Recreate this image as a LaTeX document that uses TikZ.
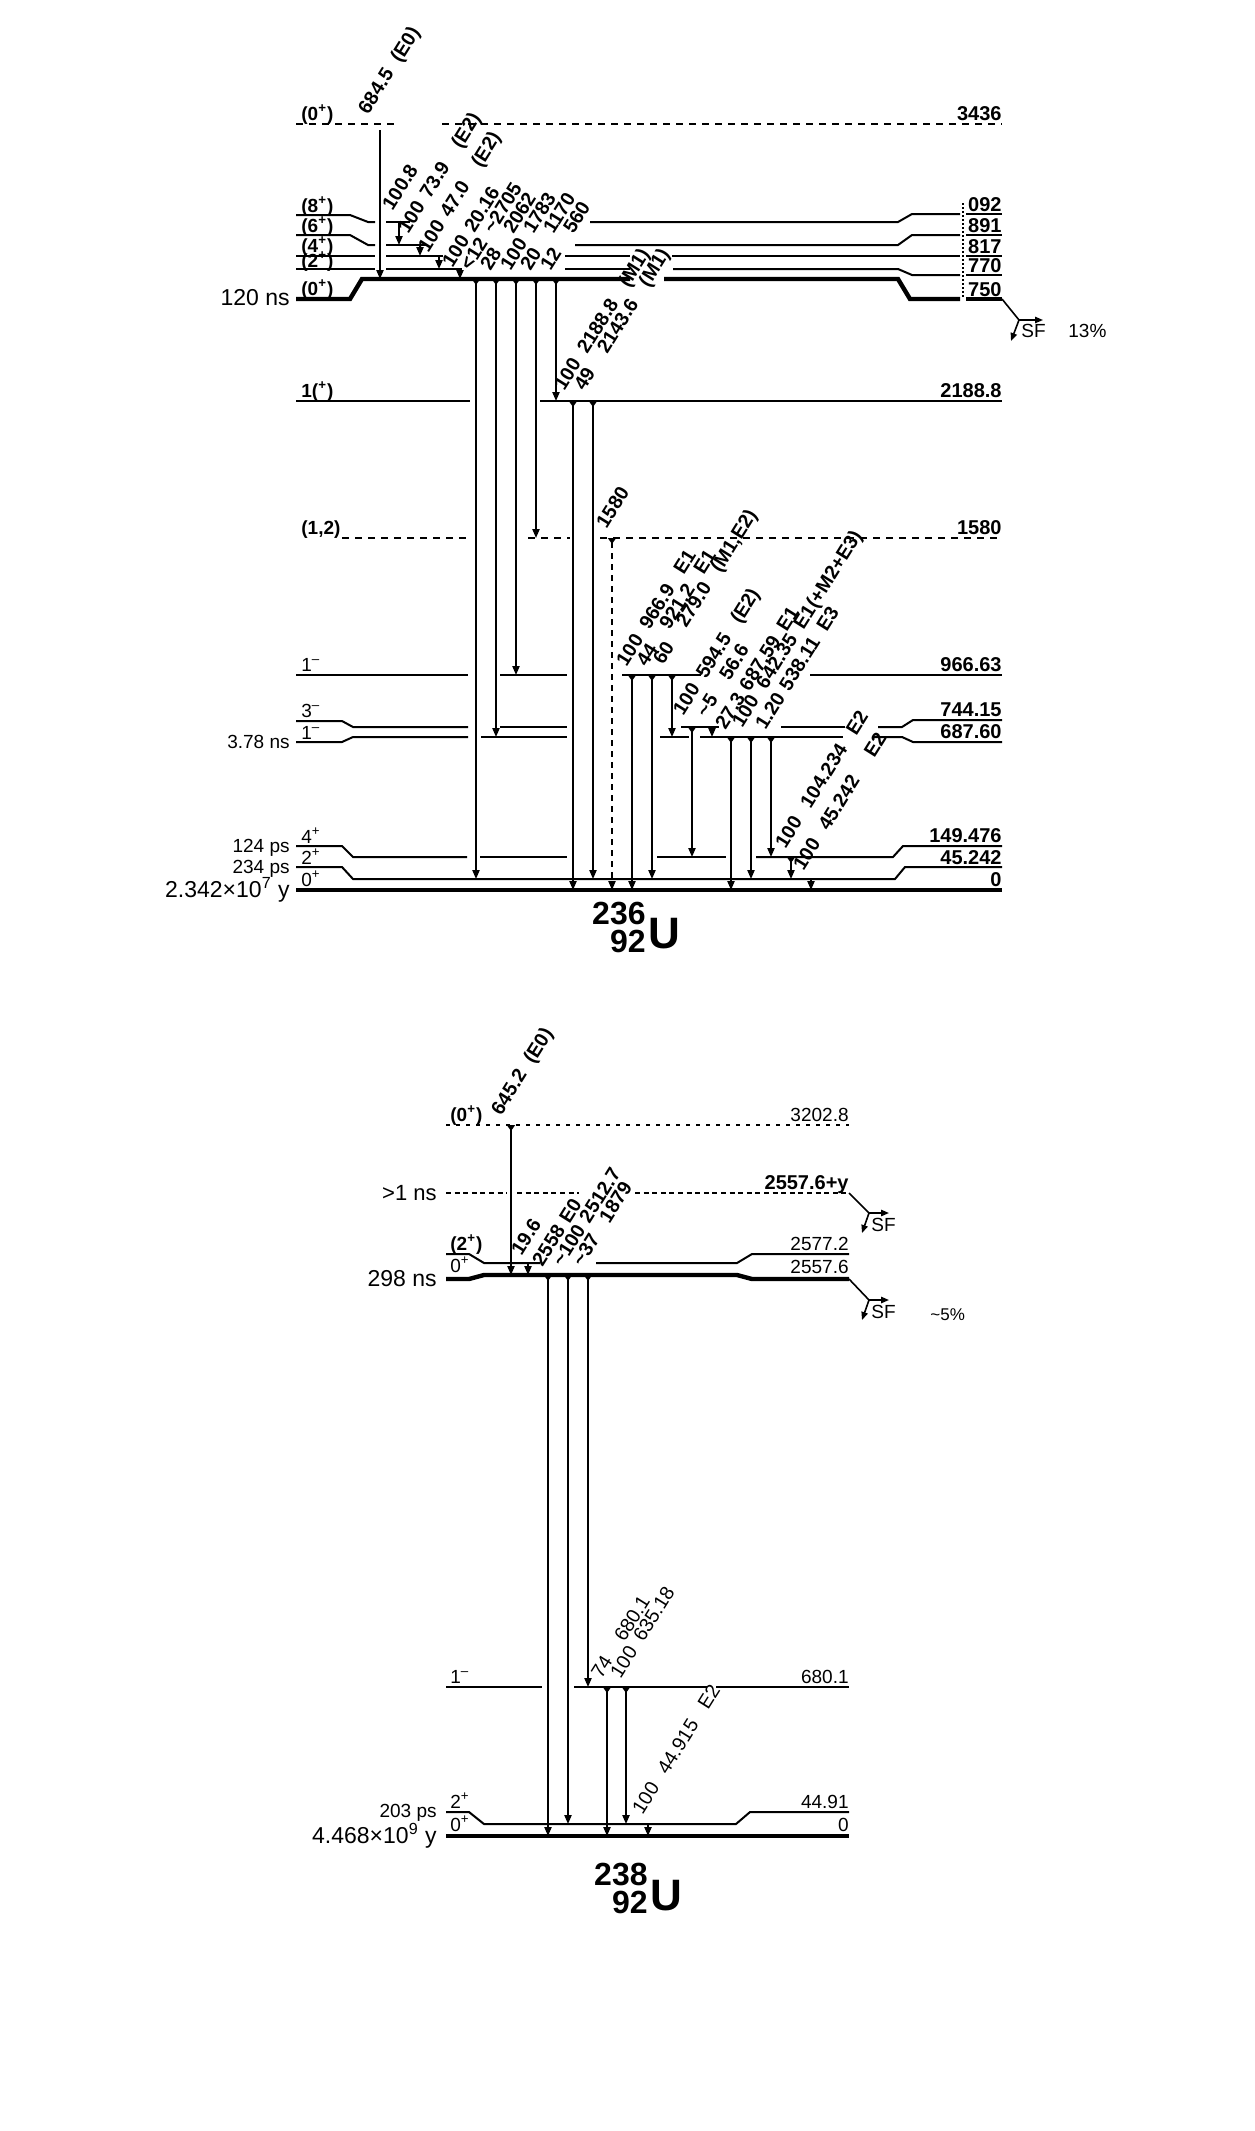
\documentclass[tikz,border=0pt]{standalone}
\usepackage{fontspec}
\setmainfont{Liberation Sans}
\usetikzlibrary{arrows.meta}
\newcommand{\trl}[5]{\makebox[#1][l]{#2}\makebox[#3][l]{#4}#5}
\newcommand{\tld}{\textasciitilde}
\newcommand{\smin}{\textsuperscript{–}}
\begin{document}
\begin{tikzpicture}[x=0.5pt,y=-0.5pt,
  lev/.style={line width=1pt},
  thk/.style={line width=2.2pt},
  dsh/.style={line width=1pt,dash pattern=on 3.5pt off 3pt},
  dsb/.style={line width=1pt,dash pattern=on 2pt off 3pt},
  dsc/.style={line width=1.2pt,dash pattern=on 2.5pt off 1.8pt},
  tr/.style={line width=0.8pt,{Triangle[reversed,width=4pt,length=3pt]}-{Triangle[width=3.6pt,length=4.5pt]}},
  trn/.style={line width=0.8pt,-{Triangle[width=3.6pt,length=4.5pt]}},
  trd/.style={tr,dash pattern=on 3pt off 2.5pt},
  sfa/.style={line width=0.8pt,-{Triangle[width=3.2pt,length=4pt]}},
  lbl/.style={rotate=58,anchor=south west,inner sep=0pt,font=\bfseries\fontsize{9.8}{10}\selectfont},
  lbr/.style={lbl,font=\fontsize{9.8}{10}\selectfont},
  enb/.style={anchor=base east,inner sep=0pt,font=\bfseries\fontsize{10}{10}\selectfont},
  enr/.style={anchor=base east,inner sep=0pt,font=\fontsize{9.5}{10}\selectfont},
  spn/.style={anchor=base west,inner sep=0pt,font=\bfseries\fontsize{9.5}{10}\selectfont},
  spr/.style={anchor=base west,inner sep=0pt,font=\fontsize{9.5}{10}\selectfont},
  ltm/.style={anchor=base east,inner sep=0pt,font=\fontsize{9.5}{11}\selectfont},
  ltb/.style={anchor=base east,inner sep=0pt,font=\fontsize{11.5}{12}\selectfont},
  iso/.style={inner sep=0pt,font=\bfseries\fontsize{16}{16}\selectfont},
  isu/.style={inner sep=0pt,anchor=base west,font=\bfseries\fontsize{22}{22}\selectfont},
  sft/.style={anchor=north west,inner sep=0pt,font=\fontsize{9.5}{10}\selectfont},
]
\fill[white] (0,0) rectangle (1254,2131);
\useasboundingbox (0,0) rectangle (1254,2131);

%%%%%%%%%%%%%%%% 236U %%%%%%%%%%%%%%%%
\draw[dsh] (296,124) -- (400,124);
\draw[dsh] (442,124) -- (1002,124);
% band 8+
\draw[lev] (296,215) -- (350,215) -- (368,222) -- (375,222);
\draw[lev] (386,222) -- (410,222);
\draw[lev] (590,222) -- (898,222) -- (912,214) -- (960,214);
\draw[lev] (966,214) -- (1002,214);
% 6+
\draw[lev] (296,235) -- (350,235) -- (368,245) -- (375,245);
\draw[lev] (386,245) -- (427,245);
\draw[lev] (575,245) -- (898,245) -- (912,235) -- (960,235);
\draw[lev] (966,235) -- (1002,235);
% 4+
\draw[lev] (296,256) -- (375,256);
\draw[lev] (386,256) -- (443,256);
\draw[lev] (565,256) -- (630,256);
\draw[lev] (672,256) -- (960,256);
\draw[lev] (966,256) -- (1002,256);
% 2+
\draw[lev] (296,269) -- (375,269);
\draw[lev] (386,269) -- (462,269);
\draw[lev] (565,269) -- (630,269);
\draw[lev] (673,269) -- (898,269) -- (912,275) -- (960,275);
\draw[lev] (966,275) -- (1002,275);
% 0+ isomer
\draw[thk] (296,299) -- (350,299) -- (362,279) -- (630,279);
\draw[thk] (664,279) -- (898,279) -- (910,299) -- (960,299);
\draw[thk] (966,299) -- (1002,299);
\draw[densely dotted,line width=1pt] (963,203) -- (963,299);
% 1(+)
\draw[lev] (296,401) -- (470,401);
\draw[lev] (540,401) -- (1002,401);
% (1,2)
\draw[dsh] (342,538) -- (470,538);
\draw[dsh] (528,538) -- (570,538);
\draw[dsh] (600,538) -- (1002,538);
% 966.63
\draw[lev] (296,675) -- (468,675);
\draw[lev] (500,675) -- (567,675);
\draw[lev] (622,675) -- (701,675);
\draw[lev] (810,675) -- (1002,675);
% 3-
\draw[lev] (296,721) -- (342,721) -- (353,727) -- (468,727);
\draw[lev] (500,727) -- (567,727);
\draw[lev] (681,727) -- (719,727);
\draw[lev] (781,727) -- (845,727);
\draw[lev] (878,727) -- (902,727) -- (913,720) -- (1002,720);
% 1-
\draw[lev] (296,742) -- (342,742) -- (353,737) -- (468,737);
\draw[lev] (481,737) -- (567,737);
\draw[lev] (660,737) -- (689,737);
\draw[lev] (700,737) -- (843,737);
\draw[lev] (874,737) -- (902,737) -- (913,742) -- (1002,742);
% 4+
\draw[lev] (296,846) -- (342,846) -- (353,857) -- (467,857);
\draw[lev] (480,857) -- (567,857);
\draw[lev] (657,857) -- (726,857);
\draw[lev] (756,857) -- (893,857) -- (903,846) -- (1002,846);
% 2+
\draw[lev] (296,867) -- (342,867) -- (353,879) -- (895,879) -- (905,867) -- (1002,867);
% ground
\draw[thk] (296,890) -- (1002,890);

% left labels
\node[spn] (a01) at (301,120) {(0\textsuperscript{+})};
\node[spn] (a02) at (301,212) {(8\textsuperscript{+})};
\node[spn] (a03) at (301,232) {(6\textsuperscript{+})};
\node[spn] (a04) at (301,252) {(4\textsuperscript{+})};
\node[spn] (a05) at (301,267) {(2\textsuperscript{+})};
\node[spn] (a06) at (301,295) {(0\textsuperscript{+})};
\node[spn] (a07) at (301,397) {1(\textsuperscript{+})};
\node[spn] (a08) at (301,534) {(1,2)};
\node[spr] (a09) at (301,671) {1\smin};
\node[spr] (a10) at (301,717) {3\smin};
\node[spr] (a11) at (301,739) {1\smin};
\node[spr] (a12) at (301,843) {4\textsuperscript{+}};
\node[spr] (a13) at (301,864) {2\textsuperscript{+}};
\node[spr] (a14) at (301,886) {0\textsuperscript{+}};
% lifetimes
\node[ltb] (b01) at (290,305) {120 ns};
\node[ltm] (b02) at (290,748) {3.78 ns};
\node[ltm] (b03) at (290,852) {124 ps};
\node[ltm] (b04) at (290,873) {234 ps};
\node[ltb] (b05) at (290,897) {2.342×10\textsuperscript{7} y};
% right energies
\node[enb] (c01) at (1002,120) {3436};
\node[enb] (c02) at (1002,211) {092};
\node[enb] (c03) at (1002,232) {891};
\node[enb] (c04) at (1002,253) {817};
\node[enb] (c05) at (1002,272) {770};
\node[enb] (c06) at (1002,296) {750};
\node[enb] (c07) at (1002,397) {2188.8};
\node[enb] (c08) at (1002,534) {1580};
\node[enb] (c09) at (1002,671) {966.63};
\node[enb] (c10) at (1002,716) {744.15};
\node[enb] (c11) at (1002,738) {687.60};
\node[enb] (c12) at (1002,842) {149.476};
\node[enb] (c13) at (1002,864) {45.242};
\node[enb] (c14) at (1002,886) {0};

% SF
\coordinate (sf0) at (1002,299);
\coordinate (sf1) at (1019,320);
\coordinate (sf1r) at (1043,320);
\coordinate (sf1d) at (1011,341);
\draw[line width=0.8pt] (sf0) -- (sf1);
\draw[sfa] (sf1) -- (sf1r);
\draw[sfa] (sf1) -- (sf1d);
\node[sft] (sfl1) at (1021,324) {SF};
\node[sft] (sfp1) at (1068,324) {13\%};

% transitions
\coordinate (p1s) at (380,130); \coordinate (p1e) at (380,279);
\draw[trn] (p1s) -- (p1e);
\node[lbl] (q1) at (372,118) {\makebox[3.1em][l]{684.5}(E0)};

\coordinate (p2s) at (399,222); \coordinate (p2e) at (399,245);
\draw[trn] (p2s) -- (p2e);
\node[lbl] (q2) at (393,212) {100.8};
\coordinate (p3s) at (420,245); \coordinate (p3e) at (420,256);
\draw[trn] (p3s) -- (p3e);
\node[lbl] (q3) at (412,237) {\trl{2.1em}{100}{3.0em}{73.9}{(E2)}};
\coordinate (p4s) at (439,256); \coordinate (p4e) at (439,269);
\draw[trn] (p4s) -- (p4e);
\node[lbl] (q4) at (432,256) {\trl{2.1em}{100}{3.0em}{47.0}{(E2)}};
\coordinate (p5s) at (460,269); \coordinate (p5e) at (460,279);
\draw[trn] (p5s) -- (p5e);
\node[lbl] (q5) at (453,269) {\trl{2.1em}{100}{3.0em}{20.16}{}};

\coordinate (p6s) at (476,279); \coordinate (p6e) at (476,879);
\draw[tr] (p6s) -- (p6e);
\node[lbl] (q6) at (471,272) {\makebox[2.2em][l]{<12}\tld2705};
\coordinate (p7s) at (496,279); \coordinate (p7e) at (496,737);
\draw[tr] (p7s) -- (p7e);
\node[lbl] (q7) at (491,272) {\makebox[2.2em][l]{28}2062};
\coordinate (p8s) at (516,279); \coordinate (p8e) at (516,675);
\draw[tr] (p8s) -- (p8e);
\node[lbl] (q8) at (511,272) {\makebox[2.2em][l]{100}1783};
\coordinate (p9s) at (536,279); \coordinate (p9e) at (536,538);
\draw[tr] (p9s) -- (p9e);
\node[lbl] (q9) at (531,272) {\makebox[2.2em][l]{20}1170};
\coordinate (p10s) at (556,279); \coordinate (p10e) at (556,401);
\draw[tr] (p10s) -- (p10e);
\node[lbl] (q10) at (551,272) {\makebox[2.2em][l]{12}560};

\coordinate (p11s) at (573,401); \coordinate (p11e) at (573,890);
\draw[tr] (p11s) -- (p11e);
\node[lbl] (q11) at (568,394) {\trl{2.2em}{100}{4.0em}{2188.8}{(M1)}};
\coordinate (p12s) at (593,401); \coordinate (p12e) at (593,879);
\draw[tr] (p12s) -- (p12e);
\node[lbl] (q12) at (588,394) {\trl{2.2em}{49}{4.0em}{2143.6}{(M1)}};

\coordinate (p13s) at (612,538); \coordinate (p13e) at (612,890);
\draw[trd] (p13s) -- (p13e);
\node[lbl] (q13) at (607,530) {1580};

\coordinate (p14s) at (632,675); \coordinate (p14e) at (632,890);
\draw[tr] (p14s) -- (p14e);
\node[lbl] (q14) at (627,668) {\trl{2.2em}{100}{3.3em}{966.9}{E1}};
\coordinate (p15s) at (652,675); \coordinate (p15e) at (652,879);
\draw[tr] (p15s) -- (p15e);
\node[lbl] (q15) at (647,668) {\trl{2.2em}{44}{3.3em}{921.2}{E1}};
\coordinate (p16s) at (672,675); \coordinate (p16e) at (672,737);
\draw[tr] (p16s) -- (p16e);
\node[lbl] (q16) at (667,668) {\trl{2.2em}{60}{3.3em}{279.0}{(M1,E2)}};

\coordinate (p17s) at (692,727); \coordinate (p17e) at (692,857);
\draw[tr] (p17s) -- (p17e);
\node[lbl] (q17) at (687,719) {\trl{2.2em}{100}{3.3em}{594.5}{(E2)}};
\coordinate (p18s) at (712,727); \coordinate (p18e) at (712,737);
\draw[trn] (p18s) -- (p18e);
\node[lbl] (q18) at (707,719) {\trl{2.2em}{\tld5}{3.3em}{56.6}{}};

\coordinate (p19s) at (731,737); \coordinate (p19e) at (731,890);
\draw[tr] (p19s) -- (p19e);
\node[lbl] (q19) at (726,731) {\trl{2.3em}{27.3}{3.6em}{687.59}{E1}};
\coordinate (p20s) at (751,737); \coordinate (p20e) at (751,879);
\draw[tr] (p20s) -- (p20e);
\node[lbl] (q20) at (746,731) {\trl{2.3em}{100}{3.6em}{642.35}{E1(+M2+E3)}};
\coordinate (p21s) at (771,737); \coordinate (p21e) at (771,857);
\draw[tr] (p21s) -- (p21e);
\node[lbl] (q21) at (766,731) {\trl{2.3em}{1.20}{3.6em}{538.11}{E3}};

\coordinate (p22s) at (791,857); \coordinate (p22e) at (791,879);
\draw[tr] (p22s) -- (p22e);
\node[lbl] (q22) at (786,850) {\trl{2.4em}{100}{4.4em}{104.234}{E2}};
\coordinate (p23s) at (811,879); \coordinate (p23e) at (811,890);
\draw[trn] (p23s) -- (p23e);
\node[lbl] (q23) at (804,872) {\trl{2.4em}{100}{4.4em}{45.242}{E2}};

\node[iso,anchor=base east] (u1a) at (646,924) {236};
\node[iso,anchor=base east] (u1b) at (646,952) {92};
\node[isu] (u1c) at (648,948) {U};

%%%%%%%%%%%%%%%% 238U %%%%%%%%%%%%%%%%
\draw[dsb] (446,1125) -- (849,1125);
\draw[dsc] (446,1193) -- (507,1193);
\draw[dsc] (517,1193) -- (579,1193);
\draw[dsc] (635,1193) -- (849,1193);
\draw[lev] (446,1254) -- (469,1254) -- (484,1263) -- (540,1263);
\draw[lev] (596,1263) -- (737,1263) -- (752,1254) -- (849,1254);
\draw[thk] (446,1279) -- (469,1279) -- (484,1275) -- (737,1275) -- (752,1279) -- (849,1279);
\draw[lev] (446,1687) -- (542,1687);
\draw[lev] (574,1687) -- (707,1687);
\draw[lev] (716,1687) -- (849,1687);
\draw[lev] (446,1812) -- (469,1812) -- (484,1824) -- (736,1824) -- (750,1812) -- (849,1812);
\draw[thk] (446,1836) -- (849,1836);

\node[spn] (d01) at (450,1121) {(0\textsuperscript{+})};
\node[spn] (d02) at (450,1250) {(2\textsuperscript{+})};
\node[spr] (d03) at (450,1272) {0\textsuperscript{+}};
\node[spr] (d04) at (450,1683) {1\smin};
\node[spr] (d05) at (450,1808) {2\textsuperscript{+}};
\node[spr] (d06) at (450,1831) {0\textsuperscript{+}};

\node[ltb,font=\fontsize{11}{12}\selectfont] (e01) at (437,1200) {>1 ns};
\node[ltb] (e02) at (437,1286) {298 ns};
\node[ltm] (e03) at (437,1817) {203 ps};
\node[ltb] (e04) at (437,1843) {4.468×10\textsuperscript{9} y};

\node[enr] (f01) at (849,1121) {3202.8};
\node[enb] (f02) at (849,1189) {2557.6+y};
\node[enr] (f03) at (849,1250) {2577.2};
\node[enr] (f04) at (849,1273) {2557.6};
\node[enr] (f05) at (849,1683) {680.1};
\node[enr] (f06) at (849,1808) {44.91};
\node[enr] (f07) at (849,1831) {0};

% SF
\coordinate (sf2) at (849,1193);
\coordinate (sf3) at (869,1213);
\coordinate (sf3r) at (889,1213);
\coordinate (sf3d) at (862,1233);
\draw[line width=0.8pt] (sf2) -- (sf3);
\draw[sfa] (sf3) -- (sf3r);
\draw[sfa] (sf3) -- (sf3d);
\node[sft] (sfl2) at (871,1218) {SF};
\coordinate (sf4) at (849,1279);
\coordinate (sf5) at (869,1300);
\coordinate (sf5r) at (889,1300);
\coordinate (sf5d) at (862,1320);
\draw[line width=0.8pt] (sf4) -- (sf5);
\draw[sfa] (sf5) -- (sf5r);
\draw[sfa] (sf5) -- (sf5d);
\node[sft] (sfl3) at (871,1305) {SF};
\node[sft,font=\fontsize{8.5}{9}\selectfont] (sfp3) at (930,1308) {\tld5\%};

% transitions
\coordinate (r1s) at (511,1125); \coordinate (r1e) at (511,1275);
\draw[tr] (r1s) -- (r1e);
\node[lbl] (v1) at (505,1119) {\makebox[3.1em][l]{645.2}(E0)};
\coordinate (r2s) at (528,1263); \coordinate (r2e) at (528,1275);
\draw[trn] (r2s) -- (r2e);
\node[lbl] (v2) at (522,1257) {19.6};
\coordinate (r3s) at (548,1275); \coordinate (r3e) at (548,1836);
\draw[tr] (r3s) -- (r3e);
\node[lbl] (v3) at (543,1268) {\makebox[2.6em][l]{2558}E0};
\coordinate (r4s) at (568,1275); \coordinate (r4e) at (568,1824);
\draw[tr] (r4s) -- (r4e);
\node[lbl] (v4) at (563,1268) {\makebox[2.6em][l]{\tld100}2512.7};
\coordinate (r5s) at (588,1275); \coordinate (r5e) at (588,1687);
\draw[tr] (r5s) -- (r5e);
\node[lbl] (v5) at (583,1268) {\makebox[2.6em][l]{\tld37}1879};
\coordinate (r6s) at (607,1687); \coordinate (r6e) at (607,1836);
\draw[tr] (r6s) -- (r6e);
\node[lbr] (v6) at (602,1680) {\makebox[2.2em][l]{74}680.1};
\coordinate (r7s) at (626,1687); \coordinate (r7e) at (626,1824);
\draw[tr] (r7s) -- (r7e);
\node[lbr] (v7) at (621,1680) {\makebox[2.2em][l]{100}635.18};
\coordinate (r8s) at (648,1824); \coordinate (r8e) at (648,1836);
\draw[trn] (r8s) -- (r8e);
\node[lbr] (v8) at (643,1816) {\trl{2.4em}{100}{3.9em}{44.915}{E2}};

\node[iso,anchor=base east] (u2a) at (648,1885) {238};
\node[iso,anchor=base east] (u2b) at (648,1913) {92};
\node[isu] (u2c) at (650,1910) {U};
\end{tikzpicture}
\end{document}
